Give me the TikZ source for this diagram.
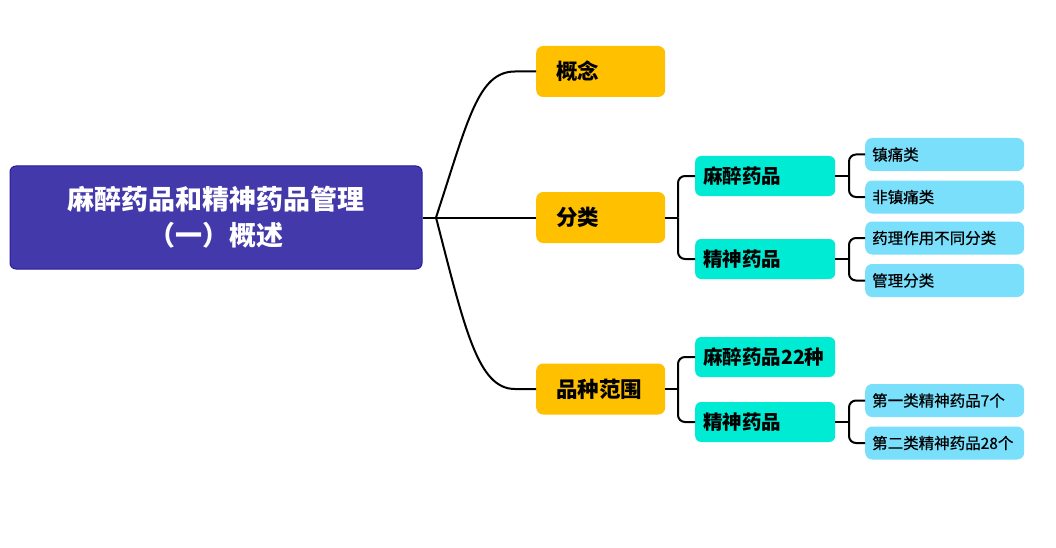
\documentclass[tikz,border=0pt]{standalone}
\usepackage{fontspec}
\setmainfont{Noto Sans CJK SC}
\newfontfamily\cjkmed[FakeBold=0.6]{Noto Sans CJK SC}
\definecolor{rootfill}{RGB}{67,57,171}
\definecolor{rootline}{RGB}{40,30,160}
\definecolor{orangeA}{RGB}{255,192,0}
\definecolor{tealB}{RGB}{0,235,211}
\definecolor{blueC}{RGB}{122,223,251}
\begin{document}
\begin{tikzpicture}[x=1pt,y=-1pt,
  rootbox/.style={draw=rootline, fill=rootfill, rounded corners=6pt, line width=1pt,
    minimum width=412pt, minimum height=103pt, text=white, align=center,
    font=\bfseries\fontsize{27}{36}\selectfont},
  lvA/.style={fill=orangeA, rounded corners=7pt, anchor=west, minimum height=51pt,
    inner xsep=20pt, text width=89pt, align=left, font=\bfseries\fontsize{21.5}{24}\selectfont},
  lvB/.style={fill=tealB, rounded corners=6pt, anchor=west, minimum height=40pt,
    inner xsep=8pt, text width=124pt, align=left, font=\bfseries\fontsize{19.5}{22}\selectfont},
  lvC/.style={fill=blueC, rounded corners=7pt, anchor=west, minimum height=33pt,
    inner xsep=7pt, text width=145pt, align=left, font=\cjkmed\fontsize{15.5}{18}\selectfont},
  link/.style={line width=2pt, black}]
\useasboundingbox (0,0) rectangle (1056,548);
\fill[white] (0,0) rectangle (1056,548);

\node[rootbox] (root) at (216,217.5) {麻醉药品和精神药品管理\\（一）概述};

\node[lvA] (gn) at (536,71.5) {概念};
\node[lvA] (fl) at (536,217.5) {分类};
\node[lvA] (pz) at (536,389) {品种范围};

\node[lvB] (mz) at (695,176) {麻醉药品};
\node[lvB] (js) at (695,259) {精神药品};
\node[lvB] (mzb) at (695,357) {麻醉药品22种};
\node[lvB] (jsb) at (695,422) {精神药品};

\node[lvC] (c1) at (865,154.5) {镇痛类};
\node[lvC] (c2) at (865,197) {非镇痛类};
\node[lvC] (c3) at (865,238) {药理作用不同分类};
\node[lvC] (c4) at (865,280.5) {管理分类};
\node[lvC] (c5) at (865,400.5) {第一类精神药品7个};
\node[lvC] (c6) at (865,443) {第二类精神药品28个};

\coordinate (b0) at (436,217.5);
\draw[link] (root.east) -- (b0);
\draw[link] (b0) .. controls (468,120) and (478,71.5) .. (515,71.5) -- (gn.west);
\draw[link] (b0) -- (fl.west);
\draw[link] (b0) .. controls (465,330) and (478,389) .. (515,389) -- (pz.west);

\coordinate (j1) at (678,217.5);
\coordinate (j2) at (678,389);
\draw[link] (fl.east) -- (j1);
\draw[link, rounded corners=7pt] (j1) |- (mz.west);
\draw[link, rounded corners=7pt] (j1) |- (js.west);
\draw[link] (pz.east) -- (j2);
\draw[link, rounded corners=7pt] (j2) |- (mzb.west);
\draw[link, rounded corners=7pt] (j2) |- (jsb.west);

\coordinate (k1) at (849,176);
\coordinate (k2) at (849,259);
\coordinate (k3) at (849,422);
\draw[link] (mz.east) -- (k1);
\draw[link, rounded corners=7pt] (k1) |- (c1.west);
\draw[link, rounded corners=7pt] (k1) |- (c2.west);
\draw[link] (js.east) -- (k2);
\draw[link, rounded corners=7pt] (k2) |- (c3.west);
\draw[link, rounded corners=7pt] (k2) |- (c4.west);
\draw[link] (jsb.east) -- (k3);
\draw[link, rounded corners=7pt] (k3) |- (c5.west);
\draw[link, rounded corners=7pt] (k3) |- (c6.west);
\end{tikzpicture}
\end{document}
